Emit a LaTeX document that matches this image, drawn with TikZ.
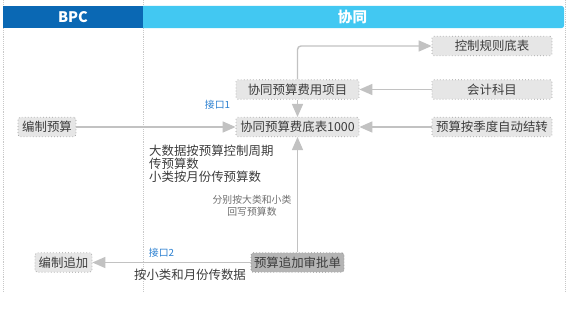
\documentclass[tikz,border=0pt]{standalone}
\usepackage{fontspec}
\setmainfont{Noto Sans CJK SC}
\usetikzlibrary{arrows.meta, positioning}
\definecolor{bpcblue}{HTML}{0A68B4}
\definecolor{xtblue}{HTML}{42C8F2}
\definecolor{boxfill}{HTML}{E6E6E6}
\definecolor{boxline}{HTML}{9C9C9C}
\definecolor{darkfill}{HTML}{B4B4B4}
\definecolor{txtgray}{HTML}{3C3C3C}
\definecolor{notegray}{HTML}{6E6E6E}
\definecolor{arrgray}{HTML}{C2C2C2}
\definecolor{linkblue}{HTML}{2A7FD0}
\definecolor{divgray}{HTML}{C8C8C8}

\begin{document}
\begin{tikzpicture}[
    x=0.03cm, y=-0.03cm,
    header/.style={rectangle, fill=#1, minimum height=0.66cm, inner sep=0pt, font=\fontsize{12.4}{14}\selectfont\bfseries, text=white},
    box/.style={rectangle, rounded corners=1.5pt, draw=boxline, dotted, line width=0.6pt, fill=boxfill, minimum height=0.58cm, inner xsep=2pt, inner ysep=0pt, font=\fontsize{10.6}{12}\selectfont, text=txtgray},
    darkbox/.style={box, fill=darkfill, draw=darkfill!80!black},
    note/.style={font=\fontsize{10.6}{9.8}\selectfont, text=txtgray, inner sep=0pt},
    smallnote/.style={font=\fontsize{8.4}{10.2}\selectfont, text=notegray, inner sep=0pt, align=center},
    link/.style={font=\fontsize{8.4}{10}\selectfont, text=linkblue, inner sep=0pt},
    arr/.style={-{Triangle[length=0.39cm, width=0.33cm]}, line width=1.2pt, draw=arrgray},
    divider/.style={densely dotted, draw=divgray, line width=0.6pt},
]
\useasboundingbox (0,0) rectangle (567,308);

% ─── Lanes ───
\draw[divider] (3,0) -- (3,292);
\draw[divider] (143,0) -- (143,292);
\draw[divider] (565,0) -- (565,292);

\node[header=xtblue, rounded corners=2pt, minimum width=12.69cm] (xthead) at (352.5,17) {协同};
\node[header=bpcblue, minimum width=4.2cm] (bpchead) at (73,17) {BPC};

% ─── Right column ───
\node[box, minimum width=3.6cm] (rule) at (492,46) {控制规则底表};
\node[box, minimum width=3.6cm] (acct) at (492,89.5) {会计科目};
\node[box, minimum width=3.6cm] (quarter) at (492,127) {预算按季度自动结转};

% ─── Centre column ───
\node[box, minimum width=3.69cm] (cost) at (297.5,89.5) {协同预算费用项目};
\node[box, minimum width=3.69cm] (base) at (297.5,127) {协同预算费底表1000};
\node[darkbox, minimum width=2.79cm] (approve) at (297.5,262.5) {预算追加审批单};

% ─── BPC column ───
\node[box, minimum width=1.74cm] (prep) at (47,127) {编制预算};
\node[box, minimum width=1.71cm] (addon) at (63.5,262.5) {编制追加};

% ─── Labels ───
\node[link] (if1) at (217.5,105) {接口1};
\node[link] (if2) at (161.5,253) {接口2};
\node[note, anchor=north west, align=left] (bigdata) at (149,145) {大数据按预算控制周期\\传预算数\\小类按月份传预算数};
\node[smallnote] (writeback) at (252,206) {分别按大类和小类\\回写预算数};
\node[note] (monthly) at (190,274.5) {按小类和月份传数据};

% ─── Arrows ───
\draw[arr, rounded corners=3pt] (cost.north) |- (rule.west);
\draw[arr] (acct) -- (cost);
\draw[arr] (cost) -- (base);
\draw[arr] (quarter) -- (base);
\draw[arr] (prep) -- (base);
\draw[arr] (approve) -- (base);
\draw[arr] (approve) -- (addon);

\end{tikzpicture}
\end{document}
